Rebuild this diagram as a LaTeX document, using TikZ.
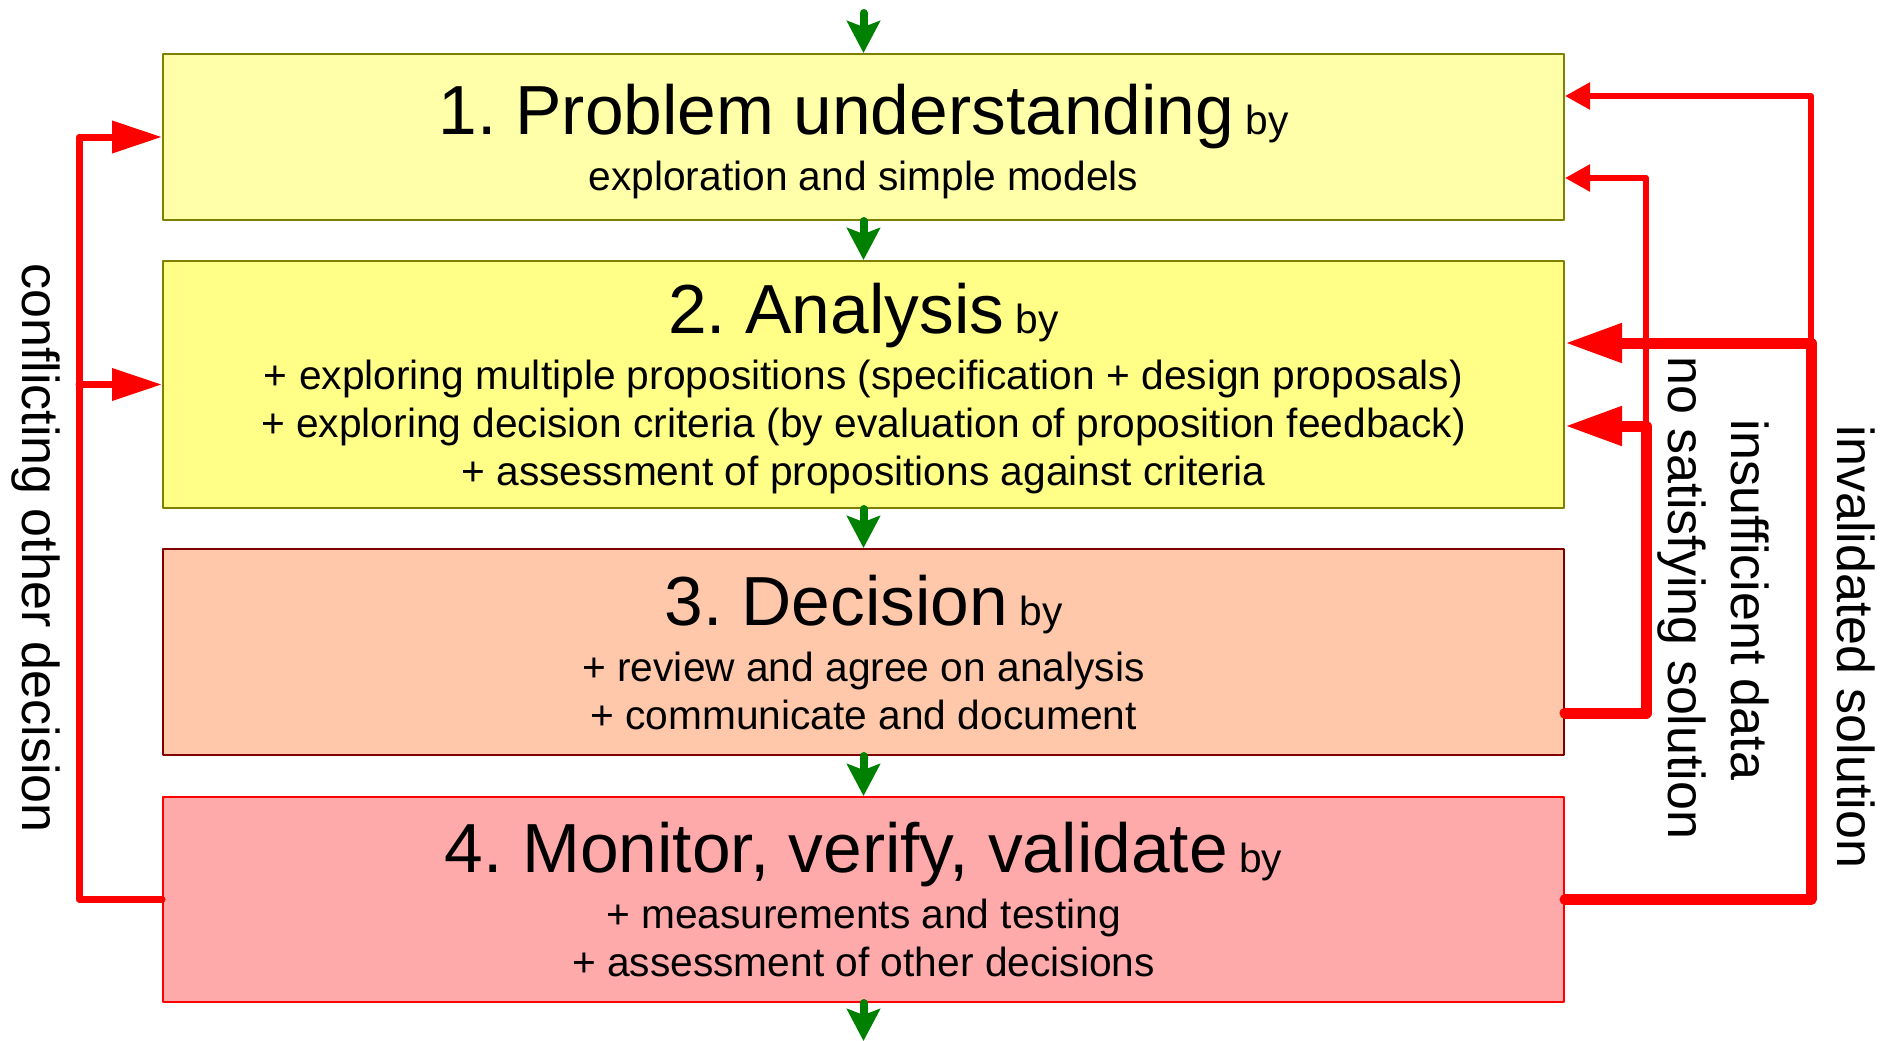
\documentclass[tikz,border=0pt]{standalone}
\usepackage{fontspec}
\setmainfont{Liberation Sans}
\usetikzlibrary{arrows.meta}
\frenchspacing

\definecolor{flowgreen}{RGB}{0,128,0}
\definecolor{oliveline}{RGB}{128,128,0}
\definecolor{darkredline}{RGB}{128,0,0}
\definecolor{probfill}{RGB}{255,255,170}
\definecolor{anafill}{RGB}{255,255,136}
\definecolor{decfill}{RGB}{255,200,170}
\definecolor{monfill}{RGB}{255,170,170}

\newcommand{\bodysize}{\fontsize{40.7}{48}\selectfont}
\newcommand{\stagehead}[1]{{\fontsize{69.5}{80}\selectfont #1} by\\[8pt]}

\begin{document}
\begin{tikzpicture}[
    x=1pt, y=-1pt,
    line join=round,
    % Stage boxes
    stage/.style={draw, line width=2pt, minimum width=1401pt, inner sep=0pt,
        align=center, text depth=0pt, font=\bodysize},
    % Green flow arrows between stages
    flow/.style={flowgreen, line width=8pt, line cap=round,
        -{Stealth[length=32pt, width=33pt, inset=6pt]}},
    % Red feedback arrows
    backthick/.style={red, line width=11pt, line cap=round,
        -{Triangle[length=57pt, width=37pt]}},
    backthin/.style={red, line width=5.5pt,
        -{Triangle[length=25pt, width=26pt]}},
    backleft/.style={red, line width=7pt, line cap=round,
        -{Triangle[length=50pt, width=31pt]}},
    sidelabel/.style={rotate=-90, anchor=base, inner sep=0pt,
        font=\fontsize{52}{60}\selectfont}
]
\useasboundingbox (0,0) rectangle (1887,1041);

% --- Stages ---
\node[stage, fill=probfill, draw=oliveline, minimum height=166pt] (prob) at (863.5,137)
    {\stagehead{1. Problem understanding}exploration and simple models};
\node[stage, fill=anafill, draw=oliveline, minimum height=247pt] (ana) at (863.5,384.5)
    {\stagehead{2. Analysis}+ exploring multiple propositions (specification + design proposals)\\
     + exploring decision criteria (by evaluation of proposition feedback)\\
     + assessment of propositions against criteria};
\node[stage, fill=decfill, draw=darkredline, minimum height=206pt] (dec) at (863.5,652)
    {\stagehead{3. Decision}+ review and agree on analysis\\
     + communicate and document};
\node[stage, fill=monfill, draw=red, minimum height=205pt] (mon) at (863.5,899.5)
    {\stagehead{4. Monitor, verify, validate}+ measurements and testing\\
     + assessment of other decisions};

% --- Main flow (green) ---
\coordinate (flowin) at (863.5,13);
\coordinate (flowout) at (863.5,1041);
\draw[flow] (flowin) -- (prob.north);
\draw[flow] (prob.south) -- (ana.north);
\draw[flow] (ana.south) -- (dec.north);
\draw[flow] (dec.south) -- (mon.north);
\draw[flow] (mon.south) -- (flowout);

% --- Feedback on the right ---
\coordinate (inv) at (1811,343);
\coordinate (invtop) at (1811,96);
\coordinate (nssbot) at (1646,713);
\coordinate (nss) at (1646,426);
\coordinate (nsstop) at (1646,178);
\draw[backthin] (inv) -- (invtop) -- (invtop -| prob.east);
\draw[backthin] (nss) -- (nsstop) -- (nsstop -| prob.east);
\draw[backthick] (mon.east) -| (inv) -- (inv -| ana.east);
\draw[backthick] (nssbot -| dec.east) -- (nssbot) -- (nss) -- (nss -| ana.east);

% --- Feedback on the left ---
\coordinate (conf) at (79,0);
\draw[backleft] (mon.west) -| (conf |- prob.west) -- (prob.west);
\draw[backleft] (conf |- ana.west) -- (ana.west);

% --- Labels ---
\node[sidelabel] (lconf) at (23,548) {conflicting other decision};
\node[sidelabel] (lnss) at (1668,598) {no satisfying solution};
\node[sidelabel] (lins) at (1731,600) {insufficient data};
\node[sidelabel] (linv) at (1837,647) {invalidated solution};

\end{tikzpicture}
\end{document}
